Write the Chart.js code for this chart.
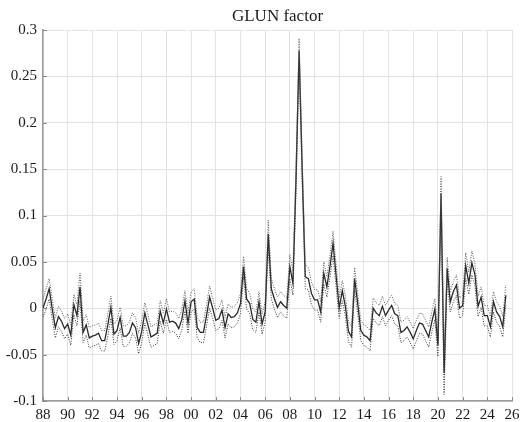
<!DOCTYPE html>
<html lang="en">
<head>
    <meta charset="UTF-8">
    <script src="https://cdn.jsdelivr.net/npm/chart.js"></script>
    <title>GLUN factor</title>
</head>
<style>
    body{
        margin: 0;
        background: white;
    }
    .chart-box{
        width: 521px;
        height: 422px;
    }
</style>
<body>

    <div class="chart-box">
        <canvas id="glunChart" width="521" height="422"></canvas>
    </div>

<script>
    // quarterly, first quarter of 1988 onwards
    const startYear = 1988;

    const factor = [
        0.000, 0.010, 0.021, -0.001,
        -0.021, -0.009, -0.014, -0.022,
        -0.017, -0.029, 0.004, -0.008,
        0.023, -0.026, -0.018, -0.032,
        -0.030, -0.029, -0.027, -0.035,
        -0.035, -0.018, 0.001, -0.028,
        -0.024, -0.010, -0.030, -0.030,
        -0.026, -0.016, -0.021, -0.038,
        -0.025, -0.005, -0.018, -0.031,
        -0.029, -0.027, -0.003, -0.016,
        -0.001, -0.015, -0.014, -0.016,
        -0.022, -0.012, 0.008, -0.016,
        0.007, 0.010, -0.021, -0.026,
        -0.026, -0.008, 0.012, 0.000,
        -0.013, -0.011, -0.002, -0.021,
        -0.006, -0.010, -0.009, -0.005,
        0.005, 0.045, 0.010, 0.005,
        -0.012, -0.015, 0.007, -0.017,
        -0.004, 0.080, 0.021, 0.010,
        0.001, 0.007, 0.003, 0.000,
        0.045, 0.027, 0.140, 0.278,
        0.150, 0.034, 0.032, 0.016,
        0.009, 0.009, -0.004, 0.038,
        0.023, 0.045, 0.070, 0.035,
        0.000, 0.019, 0.002, -0.025,
        -0.031, 0.032, 0.005, -0.024,
        -0.029, -0.031, -0.035, 0.000,
        -0.005, -0.008, 0.002, -0.008,
        -0.002, 0.003, -0.006, -0.008,
        -0.026, -0.024, -0.020, -0.026,
        -0.033, -0.024, -0.016, -0.017,
        -0.024, -0.031, -0.015, -0.001,
        -0.040, 0.124, -0.070, 0.043,
        0.007, 0.018, 0.025, 0.000,
        0.003, 0.046, 0.027, 0.049,
        0.036, 0.002, 0.012, -0.008,
        -0.008, -0.020, 0.007, -0.004,
        -0.009, -0.020, 0.014
    ];

    const upperBand = [
        0.010, 0.021, 0.032, 0.010,
        -0.010, 0.002, -0.003, -0.011,
        -0.006, -0.018, 0.015, 0.003,
        0.038, -0.014, -0.007, -0.021,
        -0.019, -0.018, -0.016, -0.024,
        -0.024, -0.006, 0.013, -0.017,
        -0.013, 0.001, -0.019, -0.019,
        -0.015, -0.005, -0.010, -0.027,
        -0.013, 0.006, -0.007, -0.020,
        -0.018, -0.016, 0.008, -0.005,
        0.010, -0.004, -0.003, -0.005,
        -0.011, -0.001, 0.019, -0.005,
        0.018, 0.021, -0.010, -0.015,
        -0.015, 0.003, 0.024, 0.011,
        -0.002, 0.000, 0.009, -0.010,
        0.005, 0.001, 0.002, 0.006,
        0.016, 0.056, 0.021, 0.016,
        -0.001, -0.004, 0.018, -0.006,
        0.007, 0.095, 0.032, 0.021,
        0.012, 0.018, 0.014, 0.011,
        0.058, 0.040, 0.155, 0.291,
        0.163, 0.047, 0.044, 0.028,
        0.020, 0.020, 0.007, 0.050,
        0.034, 0.057, 0.083, 0.047,
        0.011, 0.030, 0.013, -0.014,
        -0.020, 0.044, 0.016, -0.013,
        -0.018, -0.020, -0.024, 0.011,
        0.006, 0.003, 0.013, 0.003,
        0.009, 0.014, 0.005, 0.003,
        -0.015, -0.013, -0.009, -0.015,
        -0.022, -0.013, -0.005, -0.006,
        -0.013, -0.020, -0.004, 0.010,
        -0.028, 0.142, -0.050, 0.055,
        0.018, 0.029, 0.036, 0.011,
        0.014, 0.060, 0.039, 0.062,
        0.048, 0.013, 0.023, 0.003,
        0.003, -0.009, 0.018, 0.007,
        0.002, -0.009, 0.025
    ];

    const lowerBand = [
        -0.010, -0.001, 0.010, -0.012,
        -0.032, -0.020, -0.025, -0.033,
        -0.028, -0.040, -0.007, -0.019,
        0.008, -0.037, -0.029, -0.043,
        -0.041, -0.040, -0.038, -0.046,
        -0.046, -0.030, -0.011, -0.039,
        -0.035, -0.021, -0.041, -0.041,
        -0.037, -0.027, -0.032, -0.049,
        -0.037, -0.016, -0.029, -0.042,
        -0.040, -0.038, -0.014, -0.027,
        -0.012, -0.026, -0.025, -0.027,
        -0.033, -0.023, -0.003, -0.027,
        -0.004, -0.001, -0.032, -0.037,
        -0.037, -0.019, 0.000, -0.011,
        -0.024, -0.022, -0.013, -0.032,
        -0.017, -0.021, -0.020, -0.016,
        -0.006, 0.034, -0.001, -0.006,
        -0.023, -0.026, -0.004, -0.028,
        -0.015, 0.065, 0.010, -0.001,
        -0.010, -0.004, -0.008, -0.011,
        0.032, 0.014, 0.125, 0.265,
        0.137, 0.021, 0.020, 0.004,
        -0.002, -0.002, -0.015, 0.026,
        0.012, 0.033, 0.057, 0.023,
        -0.011, 0.008, -0.009, -0.036,
        -0.042, 0.020, -0.006, -0.035,
        -0.040, -0.042, -0.046, -0.011,
        -0.016, -0.019, -0.009, -0.019,
        -0.013, -0.008, -0.017, -0.019,
        -0.037, -0.035, -0.031, -0.037,
        -0.044, -0.035, -0.027, -0.028,
        -0.035, -0.042, -0.026, -0.012,
        -0.052, 0.106, -0.093, 0.031,
        -0.004, 0.007, 0.014, -0.011,
        -0.008, 0.032, 0.015, 0.036,
        0.024, -0.009, 0.001, -0.019,
        -0.019, -0.031, -0.004, -0.015,
        -0.020, -0.031, 0.003
    ];

    const chartTitle = "GLUN factor";

    const toPoints = arr => arr.map((v, i) => ({ x: startYear + i / 4, y: v }));

    const serif = "'Liberation Serif', 'DejaVu Serif', serif";

    // title centred over the plot area, plus small inward tick marks
    const titlePlugin = {
        id: "plotTitle",
        afterDraw(chart) {
            const c = chart.ctx;
            const area = chart.chartArea;
            c.save();
            c.font = "17px " + serif;
            c.fillStyle = "#1a1a1a";
            c.textAlign = "center";
            c.textBaseline = "alphabetic";
            c.fillText(chartTitle, (area.left + area.right) / 2, 21);

            c.strokeStyle = "#8a8a8a";
            c.lineWidth = 1;
            chart.scales.y.ticks.forEach(t => {
                const y = Math.round(chart.scales.y.getPixelForValue(t.value)) + 0.5;
                c.beginPath();
                c.moveTo(area.left, y);
                c.lineTo(area.left + 4, y);
                c.stroke();
            });
            chart.scales.x.ticks.forEach(t => {
                const x = Math.round(chart.scales.x.getPixelForValue(t.value)) + 0.5;
                c.beginPath();
                c.moveTo(x, area.bottom);
                c.lineTo(x, area.bottom - 4);
                c.stroke();
            });
            c.restore();
        }
    };

    const ctx = document.getElementById("glunChart").getContext("2d");
    new Chart(ctx, {
        type: "line",
        data: {
            datasets: [
                {
                    label: "upper",
                    data: toPoints(upperBand),
                    borderColor: "#555",
                    borderWidth: 1,
                    borderDash: [1, 1.5],
                    pointRadius: 0,
                    tension: 0,
                },
                {
                    label: "lower",
                    data: toPoints(lowerBand),
                    borderColor: "#333",
                    borderWidth: 1,
                    borderDash: [1, 1.5],
                    pointRadius: 0,
                    tension: 0,
                },
                {
                    label: "GLUN",
                    data: toPoints(factor),
                    borderColor: "#2a2a2a",
                    borderWidth: 1.3,
                    pointRadius: 0,
                    tension: 0,
                },
            ],
        },
        options: {
            responsive: false,
            animation: false,
            layout: {
                padding: { top: 30, right: 9, left: 0, bottom: 0 },
            },
            plugins: {
                legend: { display: false },
                tooltip: { enabled: false },
            },
            scales: {
                x: {
                    type: "linear",
                    min: 1988,
                    max: 2026,
                    afterFit: s => {
                        s.height = 21;
                        s.paddingLeft = 0;
                        s.paddingRight = 0;
                    },
                    ticks: {
                        stepSize: 2,
                        maxRotation: 0,
                        autoSkip: false,
                        padding: 5,
                        color: "#1a1a1a",
                        font: { family: serif, size: 15 },
                        callback: v => String(v % 100).padStart(2, "0"),
                    },
                    grid: {
                        color: "#e3e3e3",
                        drawTicks: false,
                    },
                    border: { color: "#9a9a9a", width: 1.5 },
                },
                y: {
                    min: -0.1,
                    max: 0.3,
                    afterFit: s => {
                        s.width = 43;
                        s.paddingTop = 0;
                        s.paddingBottom = 0;
                    },
                    ticks: {
                        stepSize: 0.05,
                        padding: 6,
                        color: "#1a1a1a",
                        font: { family: serif, size: 15 },
                        callback: v => String(Number(v.toFixed(2))),
                    },
                    grid: {
                        color: "#e3e3e3",
                        drawTicks: false,
                    },
                    border: { color: "#9a9a9a", width: 1.5 },
                },
            },
        },
        plugins: [titlePlugin],
    });
</script>

</body>
</html>
